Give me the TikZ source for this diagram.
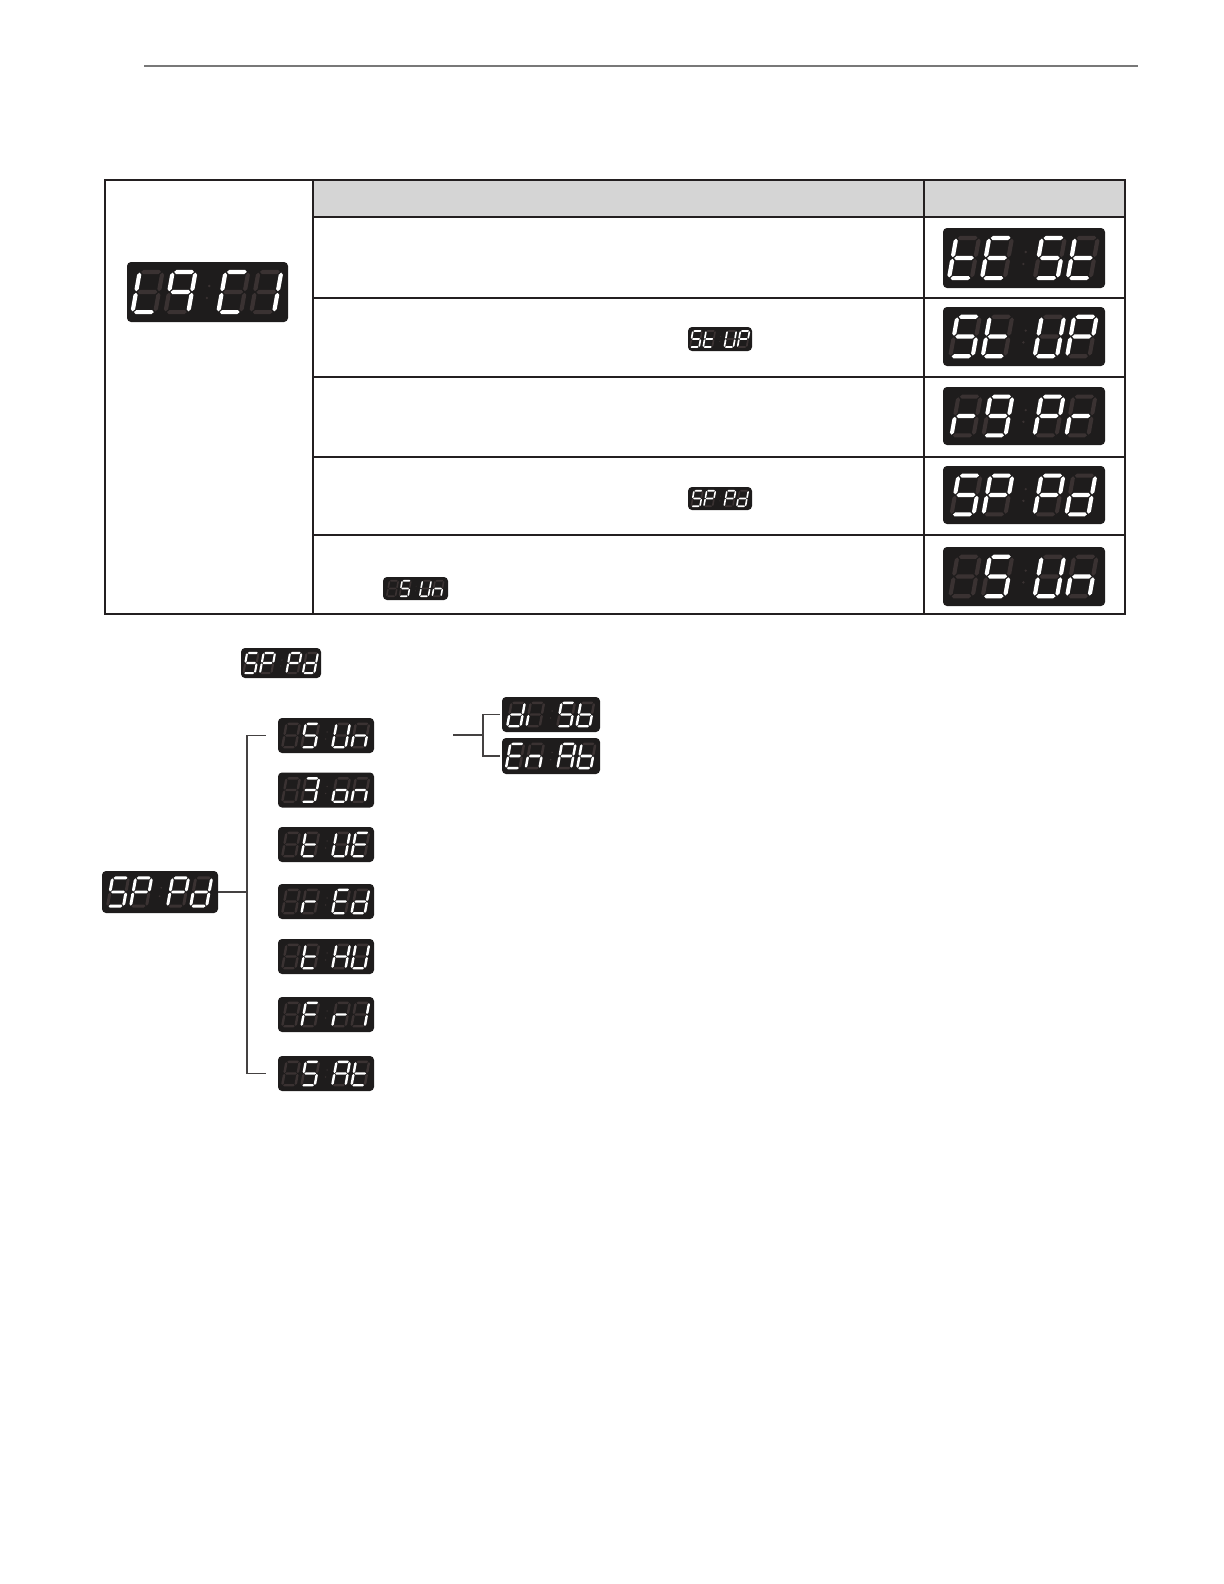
\documentclass[tikz,border=0pt]{standalone}
\usepackage{xstring}
\usetikzlibrary{calc}

\definecolor{dispbg}{RGB}{30,28,28}
\definecolor{segdim}{RGB}{58,50,50}
\definecolor{rulegray}{RGB}{120,120,120}
\definecolor{headgray}{RGB}{213,213,213}
\definecolor{inkline}{RGB}{35,31,32}

\tikzset{
  dispbox/.style 2 args={fill=dispbg,rounded corners=2pt,inner sep=0pt,
    minimum width=#1*0.5pt,minimum height=#2*0.5pt},
  segon/.style={fill=white},
  segoff/.style={fill=segdim},
  tableline/.style={draw=inkline,line width=1pt},
  treeline/.style={draw=inkline!85,line width=0.6pt}
}

% seven segment read-out: node, height (px), four digits (lit segments a-g)
\newcommand{\segshow}[3]{%
  \pgfmathsetmacro{\segu}{#2*0.5}
  \edef\seglist{#3}
  \begin{scope}[shift={(#1.center)},x=\segu pt,y=\segu pt]
    \fill[segoff] (0.03,0.1) circle (0.022) (-0.01,-0.1) circle (0.022);
    \foreach \dg [count=\i] in \seglist{
      \pgfmathsetmacro{\dx}{{-1.0,-0.45,0.43,0.98}[\i-1]}
      \begin{scope}[shift={(\dx,0)},xslant=0.18]
        \foreach \s/\px/\py/\rot/\hl in {a/0/0.335/0/0.165,b/0.19/0.168/90/0.155,
            c/0.19/-0.168/90/0.155,d/0/-0.335/0/0.165,e/-0.19/-0.168/90/0.155,
            f/-0.19/0.168/90/0.155,g/0/0/0/0.165}{
          \IfSubStr{\dg}{\s}{\def\segsty{segon}}{\def\segsty{segoff}}
          \fill[\segsty,shift={(\px,\py)},rotate=\rot] (-\hl,0) -- (-\hl+0.035,0.035)
            -- (\hl-0.035,0.035) -- (\hl,0) -- (\hl-0.035,-0.035) -- (-\hl+0.035,-0.035) -- cycle;
        }
      \end{scope}
    }
  \end{scope}
}

\begin{document}
\begin{tikzpicture}[x=0.5pt,y=-0.5pt]
  \useasboundingbox (0,0) rectangle (1224,1584);
  \draw[rulegray,line width=0.6pt] (144,66) -- (1138,66);
  % table
  \fill[headgray] (313,180) rectangle (1125,217);
  \draw[tableline] (105,180) rectangle (1125,614) (313,180) -- (313,614) (924,180) -- (924,614);
  \foreach \y in {217,298,377,457,535}{\draw[tableline] (313,\y) -- (1125,\y);}
  \node[dispbox={161}{60}] (lgci) at (207.5,292) {};
  \node[dispbox={162}{60}] (test) at (1024,258) {};
  \node[dispbox={162}{59}] (stup) at (1024,336.5) {};
  \node[dispbox={162}{58}] (rgpr) at (1024,416) {};
  \node[dispbox={162}{58}] (sppd) at (1024,495) {};
  \node[dispbox={162}{59}] (sun) at (1024,576.5) {};
  \node[dispbox={64}{24}] (stupmini) at (720,339) {};
  \node[dispbox={64}{23}] (sppdmini) at (720,498.5) {};
  \node[dispbox={65}{23}] (sunmini) at (415.5,588.5) {};
  \segshow{lgci}{60}{def,abcfg,adef,bc}
  \segshow{test}{60}{defg,adefg,acdfg,defg}
  \segshow{stup}{59}{acdfg,defg,bcdef,abefg}
  \segshow{rgpr}{58}{eg,abcdfg,abefg,eg}
  \segshow{sppd}{58}{acdfg,abefg,abefg,bcdeg}
  \segshow{sun}{59}{-,acdfg,bcdef,ceg}
  \segshow{stupmini}{24}{acdfg,defg,bcdef,abefg}
  \segshow{sppdmini}{23}{acdfg,abefg,abefg,bcdeg}
  \segshow{sunmini}{23}{-,acdfg,bcdef,ceg}
  % tree
  \node[dispbox={80}{30}] (sppdhead) at (281,663) {};
  \segshow{sppdhead}{30}{acdfg,abefg,abefg,bcdeg}
  \node[dispbox={116}{42}] (root) at (160,892) {};
  \segshow{root}{42}{acdfg,abefg,abefg,bcdeg}
  \foreach \name/\yy/\segs in {sunday/735.5/{-,acdfg,bcdef,ceg},
      monday/790/{-,abcdg,cdeg,ceg},tuesday/844.5/{-,defg,bcdef,adefg},
      wednesday/901.5/{-,eg,adefg,bcdeg},thursday/956.5/{-,defg,bcefg,bcdef},
      friday/1014.5/{-,aefg,eg,bc},saturday/1073.5/{-,acdfg,abcefg,defg}}{
    \node[dispbox={96}{35}] (\name) at (326,\yy) {};
    \segshow{\name}{35}{\segs}
  }
  \node[dispbox={98}{35}] (disb) at (551,714.5) {};
  \node[dispbox={98}{36}] (enab) at (551,756) {};
  \segshow{disb}{35}{bcdeg,e,acdfg,cdefg}
  \segshow{enab}{36}{adefg,ceg,abcefg,cdefg}
  \coordinate (dayjoin) at (247,892);
  \draw[treeline] (root.east) -- (root.east -| dayjoin);
  \draw[treeline] ([xshift=-6pt]sunday.west) -| (dayjoin) |- ([xshift=-6pt]saturday.west);
  \coordinate (optfrom) at (453,735);
  \coordinate (optjoin) at (483,735);
  \draw[treeline] (optfrom) -- (optjoin);
  \draw[treeline] ([xshift=-1pt]disb.west) -| (optjoin) |- ([xshift=-1pt]enab.west);
\end{tikzpicture}
\end{document}
